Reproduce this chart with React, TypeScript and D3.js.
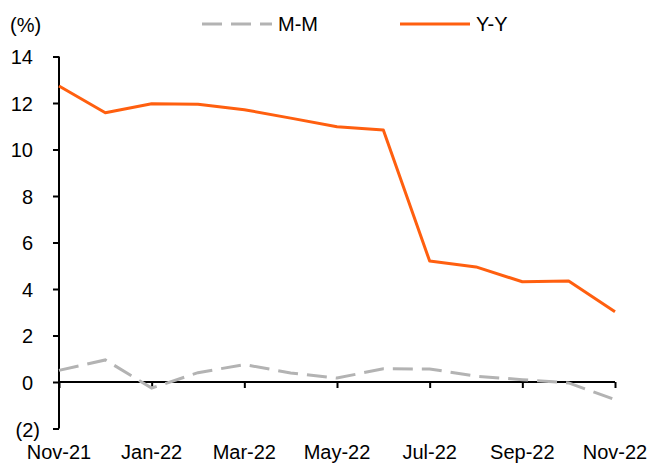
import React, { useEffect, useRef } from 'react';
import * as d3 from 'd3';

const months = [
  'Nov-21', 'Dec-21', 'Jan-22', 'Feb-22', 'Mar-22', 'Apr-22', 'May-22',
  'Jun-22', 'Jul-22', 'Aug-22', 'Sep-22', 'Oct-22', 'Nov-22',
];
const mmValues = [0.5, 0.95, -0.26, 0.4, 0.75, 0.39, 0.17, 0.57, 0.56, 0.25, 0.1, -0.04, -0.76];
const yyValues = [12.73, 11.58, 11.97, 11.95, 11.71, 11.35, 10.98, 10.84, 5.2, 4.95, 4.31, 4.34, 3.02];
const yTicks = [-2, 0, 2, 4, 6, 8, 10, 12, 14];
const xTickLabels = ['Nov-21', 'Jan-22', 'Mar-22', 'May-22', 'Jul-22', 'Sep-22', 'Nov-22'];

const App: React.FC = () => {
  const svgRef = useRef<SVGSVGElement>(null);

  useEffect(() => {
    if (!svgRef.current) return;
    d3.select(svgRef.current).selectAll('*').remove();

    const width = 651;
    const height = 465;
    const font = 'Liberation Sans, Arial, sans-serif';
    const fontSize = 20;

    const svg = d3.select(svgRef.current)
      .attr('width', width)
      .attr('height', height)
      .style('font-family', font);

    const x = d3.scalePoint<string>().domain(months).range([59, 615]);
    const y = d3.scaleLinear().domain([-2, 14]).range([428.5, 56.5]);

    // y axis
    const yAxis = d3.axisLeft(y)
      .tickValues(yTicks)
      .tickSize(6)
      .tickPadding(13)
      .tickFormat(d => (+d < 0 ? `(${Math.abs(+d)})` : `${d}`));
    const gy = svg.append('g')
      .attr('transform', `translate(${x('Nov-21')},0)`)
      .call(yAxis);
    gy.select('.domain').attr('stroke', '#000').attr('stroke-width', 2).attr('d', `M0,${y(-2)}V${y(14)}`);
    gy.selectAll('.tick line').attr('stroke', '#000').attr('stroke-width', 2);
    gy.selectAll('.tick text')
      .attr('fill', '#000')
      .style('font-size', `${fontSize}px`)
      .style('font-family', font)
      .attr('dx', (d: any) => (d < 0 ? 0 : -7))
      .attr('dy', (d: any) => (d < 0 ? '0.4em' : '0.35em'));

    // x axis on zero line
    const xAxis = d3.axisBottom(x)
      .tickValues(xTickLabels)
      .tickSize(6)
      .tickFormat(() => '');
    const gx = svg.append('g')
      .attr('transform', `translate(0,${y(0)})`)
      .call(xAxis);
    gx.select('.domain').attr('stroke', '#000').attr('stroke-width', 2).attr('d', `M${x('Nov-21')},0H${x('Nov-22')}`);
    gx.selectAll('.tick line').attr('stroke', '#000').attr('stroke-width', 2);

    // x labels at the bottom
    svg.append('g')
      .selectAll('text')
      .data(xTickLabels)
      .enter()
      .append('text')
      .attr('x', d => x(d) as number)
      .attr('y', 459)
      .attr('text-anchor', 'middle')
      .style('font-size', `${fontSize}px`)
      .text(d => d);

    const line = d3.line<number>()
      .x((_, i) => x(months[i]) as number)
      .y(d => y(d));

    svg.append('path')
      .datum(mmValues)
      .attr('d', line)
      .attr('fill', 'none')
      .attr('stroke', '#b3b3b3')
      .attr('stroke-width', 3)
      .attr('stroke-dasharray', '20,9');

    svg.append('path')
      .datum(yyValues)
      .attr('d', line)
      .attr('fill', 'none')
      .attr('stroke', '#ff5f0f')
      .attr('stroke-width', 3)
      .attr('stroke-linejoin', 'round');

    // unit label
    svg.append('text')
      .attr('x', 10)
      .attr('y', 32)
      .style('font-size', `${fontSize}px`)
      .text('(%)');

    // legend
    const legend = [
      { name: 'M-M', color: '#b3b3b3', dash: '20,9', x0: 202 },
      { name: 'Y-Y', color: '#ff5f0f', dash: null, x0: 400 },
    ];
    const lg = svg.append('g');
    legend.forEach(l => {
      lg.append('line')
        .attr('x1', l.x0)
        .attr('x2', l.x0 + 70)
        .attr('y1', 24)
        .attr('y2', 24)
        .attr('stroke', l.color)
        .attr('stroke-width', 3)
        .attr('stroke-dasharray', l.dash);
      lg.append('text')
        .attr('x', l.x0 + 76)
        .attr('y', 31)
        .style('font-size', `${fontSize}px`)
        .text(l.name);
    });
  }, []);

  return (
    <svg
      ref={svgRef}
      style={{ position: 'absolute', left: 0, top: 0, background: '#fff' }}
    ></svg>
  );
};

export default App;
